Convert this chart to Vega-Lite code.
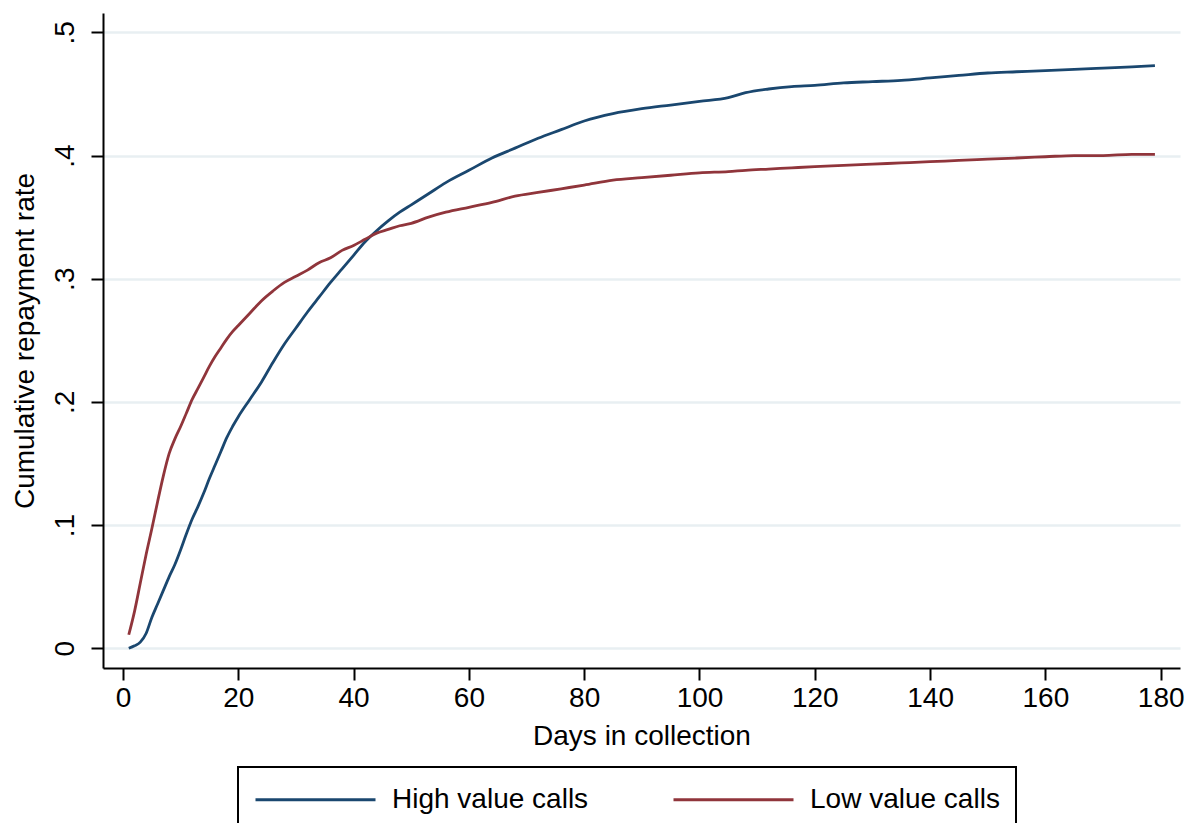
{
  "$schema": "https://vega.github.io/schema/vega-lite/v6.json",
  "width": 1077,
  "height": 655,
  "autosize": {"type": "none"},
  "padding": {"left": 103, "top": 13, "right": 6, "bottom": 155},
  "background": "white",
  "config": {
    "view": {"stroke": null},
    "font": "Liberation Sans",
    "axis": {
      "domainColor": "black",
      "domainWidth": 2,
      "tickColor": "black",
      "tickWidth": 2,
      "tickSize": 12,
      "labelColor": "black",
      "labelFontSize": 28,
      "titleColor": "black",
      "titleFontSize": 28,
      "titleFontWeight": "normal",
      "gridColor": "#e8eff2",
      "gridWidth": 2.5
    },
    "legend": {
      "strokeColor": "black",
      "strokeWidth": 2,
      "fillColor": "white"
    }
  },
  "data": {
    "values": [
      {"day": 1, "rate": 0.000, "group": "High value calls"},
      {"day": 2, "rate": 0.002, "group": "High value calls"},
      {"day": 3, "rate": 0.005, "group": "High value calls"},
      {"day": 4, "rate": 0.012, "group": "High value calls"},
      {"day": 5, "rate": 0.025, "group": "High value calls"},
      {"day": 6, "rate": 0.036, "group": "High value calls"},
      {"day": 7, "rate": 0.047, "group": "High value calls"},
      {"day": 8, "rate": 0.058, "group": "High value calls"},
      {"day": 9, "rate": 0.068, "group": "High value calls"},
      {"day": 10, "rate": 0.080, "group": "High value calls"},
      {"day": 11, "rate": 0.093, "group": "High value calls"},
      {"day": 12, "rate": 0.105, "group": "High value calls"},
      {"day": 13, "rate": 0.115, "group": "High value calls"},
      {"day": 14, "rate": 0.126, "group": "High value calls"},
      {"day": 15, "rate": 0.138, "group": "High value calls"},
      {"day": 16, "rate": 0.149, "group": "High value calls"},
      {"day": 17, "rate": 0.160, "group": "High value calls"},
      {"day": 18, "rate": 0.171, "group": "High value calls"},
      {"day": 19, "rate": 0.180, "group": "High value calls"},
      {"day": 20, "rate": 0.188, "group": "High value calls"},
      {"day": 22, "rate": 0.202, "group": "High value calls"},
      {"day": 24, "rate": 0.216, "group": "High value calls"},
      {"day": 26, "rate": 0.232, "group": "High value calls"},
      {"day": 28, "rate": 0.247, "group": "High value calls"},
      {"day": 30, "rate": 0.260, "group": "High value calls"},
      {"day": 32, "rate": 0.273, "group": "High value calls"},
      {"day": 34, "rate": 0.285, "group": "High value calls"},
      {"day": 36, "rate": 0.297, "group": "High value calls"},
      {"day": 38, "rate": 0.308, "group": "High value calls"},
      {"day": 40, "rate": 0.319, "group": "High value calls"},
      {"day": 42, "rate": 0.330, "group": "High value calls"},
      {"day": 44, "rate": 0.339, "group": "High value calls"},
      {"day": 46, "rate": 0.347, "group": "High value calls"},
      {"day": 48, "rate": 0.354, "group": "High value calls"},
      {"day": 50, "rate": 0.360, "group": "High value calls"},
      {"day": 53, "rate": 0.369, "group": "High value calls"},
      {"day": 56, "rate": 0.378, "group": "High value calls"},
      {"day": 60, "rate": 0.388, "group": "High value calls"},
      {"day": 64, "rate": 0.398, "group": "High value calls"},
      {"day": 68, "rate": 0.406, "group": "High value calls"},
      {"day": 72, "rate": 0.414, "group": "High value calls"},
      {"day": 76, "rate": 0.421, "group": "High value calls"},
      {"day": 80, "rate": 0.428, "group": "High value calls"},
      {"day": 85, "rate": 0.434, "group": "High value calls"},
      {"day": 90, "rate": 0.438, "group": "High value calls"},
      {"day": 95, "rate": 0.441, "group": "High value calls"},
      {"day": 100, "rate": 0.444, "group": "High value calls"},
      {"day": 105, "rate": 0.447, "group": "High value calls"},
      {"day": 108, "rate": 0.451, "group": "High value calls"},
      {"day": 112, "rate": 0.454, "group": "High value calls"},
      {"day": 116, "rate": 0.456, "group": "High value calls"},
      {"day": 120, "rate": 0.457, "group": "High value calls"},
      {"day": 125, "rate": 0.459, "group": "High value calls"},
      {"day": 130, "rate": 0.460, "group": "High value calls"},
      {"day": 135, "rate": 0.461, "group": "High value calls"},
      {"day": 140, "rate": 0.463, "group": "High value calls"},
      {"day": 145, "rate": 0.465, "group": "High value calls"},
      {"day": 150, "rate": 0.467, "group": "High value calls"},
      {"day": 155, "rate": 0.468, "group": "High value calls"},
      {"day": 160, "rate": 0.469, "group": "High value calls"},
      {"day": 165, "rate": 0.470, "group": "High value calls"},
      {"day": 170, "rate": 0.471, "group": "High value calls"},
      {"day": 175, "rate": 0.472, "group": "High value calls"},
      {"day": 179, "rate": 0.473, "group": "High value calls"},
      {"day": 1, "rate": 0.011, "group": "Low value calls"},
      {"day": 2, "rate": 0.030, "group": "Low value calls"},
      {"day": 3, "rate": 0.053, "group": "Low value calls"},
      {"day": 4, "rate": 0.076, "group": "Low value calls"},
      {"day": 5, "rate": 0.097, "group": "Low value calls"},
      {"day": 6, "rate": 0.119, "group": "Low value calls"},
      {"day": 7, "rate": 0.140, "group": "Low value calls"},
      {"day": 8, "rate": 0.158, "group": "Low value calls"},
      {"day": 9, "rate": 0.170, "group": "Low value calls"},
      {"day": 10, "rate": 0.180, "group": "Low value calls"},
      {"day": 11, "rate": 0.191, "group": "Low value calls"},
      {"day": 12, "rate": 0.202, "group": "Low value calls"},
      {"day": 13, "rate": 0.211, "group": "Low value calls"},
      {"day": 14, "rate": 0.220, "group": "Low value calls"},
      {"day": 15, "rate": 0.229, "group": "Low value calls"},
      {"day": 16, "rate": 0.237, "group": "Low value calls"},
      {"day": 17, "rate": 0.244, "group": "Low value calls"},
      {"day": 18, "rate": 0.251, "group": "Low value calls"},
      {"day": 19, "rate": 0.257, "group": "Low value calls"},
      {"day": 20, "rate": 0.262, "group": "Low value calls"},
      {"day": 22, "rate": 0.272, "group": "Low value calls"},
      {"day": 24, "rate": 0.282, "group": "Low value calls"},
      {"day": 26, "rate": 0.290, "group": "Low value calls"},
      {"day": 28, "rate": 0.297, "group": "Low value calls"},
      {"day": 30, "rate": 0.302, "group": "Low value calls"},
      {"day": 32, "rate": 0.307, "group": "Low value calls"},
      {"day": 34, "rate": 0.313, "group": "Low value calls"},
      {"day": 36, "rate": 0.317, "group": "Low value calls"},
      {"day": 38, "rate": 0.323, "group": "Low value calls"},
      {"day": 40, "rate": 0.327, "group": "Low value calls"},
      {"day": 42, "rate": 0.332, "group": "Low value calls"},
      {"day": 44, "rate": 0.337, "group": "Low value calls"},
      {"day": 46, "rate": 0.340, "group": "Low value calls"},
      {"day": 48, "rate": 0.343, "group": "Low value calls"},
      {"day": 50, "rate": 0.345, "group": "Low value calls"},
      {"day": 53, "rate": 0.350, "group": "Low value calls"},
      {"day": 56, "rate": 0.354, "group": "Low value calls"},
      {"day": 60, "rate": 0.358, "group": "Low value calls"},
      {"day": 64, "rate": 0.362, "group": "Low value calls"},
      {"day": 68, "rate": 0.367, "group": "Low value calls"},
      {"day": 72, "rate": 0.370, "group": "Low value calls"},
      {"day": 76, "rate": 0.373, "group": "Low value calls"},
      {"day": 80, "rate": 0.376, "group": "Low value calls"},
      {"day": 85, "rate": 0.380, "group": "Low value calls"},
      {"day": 90, "rate": 0.382, "group": "Low value calls"},
      {"day": 95, "rate": 0.384, "group": "Low value calls"},
      {"day": 100, "rate": 0.386, "group": "Low value calls"},
      {"day": 105, "rate": 0.387, "group": "Low value calls"},
      {"day": 108, "rate": 0.388, "group": "Low value calls"},
      {"day": 112, "rate": 0.389, "group": "Low value calls"},
      {"day": 116, "rate": 0.390, "group": "Low value calls"},
      {"day": 120, "rate": 0.391, "group": "Low value calls"},
      {"day": 125, "rate": 0.392, "group": "Low value calls"},
      {"day": 130, "rate": 0.393, "group": "Low value calls"},
      {"day": 135, "rate": 0.394, "group": "Low value calls"},
      {"day": 140, "rate": 0.395, "group": "Low value calls"},
      {"day": 145, "rate": 0.396, "group": "Low value calls"},
      {"day": 150, "rate": 0.397, "group": "Low value calls"},
      {"day": 155, "rate": 0.398, "group": "Low value calls"},
      {"day": 160, "rate": 0.399, "group": "Low value calls"},
      {"day": 165, "rate": 0.400, "group": "Low value calls"},
      {"day": 170, "rate": 0.400, "group": "Low value calls"},
      {"day": 175, "rate": 0.401, "group": "Low value calls"},
      {"day": 179, "rate": 0.401, "group": "Low value calls"}
    ]
  },
  "mark": {"type": "line", "strokeWidth": 2.8, "interpolate": "monotone"},
  "encoding": {
    "x": {
      "field": "day",
      "type": "quantitative",
      "scale": {"domain": [-3.47, 183.35], "nice": false, "zero": false},
      "axis": {
        "title": "Days in collection",
        "values": [0, 20, 40, 60, 80, 100, 120, 140, 160, 180],
        "grid": false,
        "labelPadding": 4,
        "titlePadding": 10,
        "labelFlush": false,
        "labelOverlap": false
      }
    },
    "y": {
      "field": "rate",
      "type": "quantitative",
      "scale": {"domain": [-0.016, 0.5157], "nice": false, "zero": false},
      "axis": {
        "title": "Cumulative repayment rate",
        "values": [0, 0.1, 0.2, 0.3, 0.4, 0.5],
        "labelExpr": "datum.value == 0 ? '0' : replace(format(datum.value, '.1f'), '0.', '.')",
        "labelAngle": -90,
        "labelAlign": "center",
        "labelBaseline": "bottom",
        "labelPadding": 12,
        "titlePadding": 12,
        "labelFlush": false,
        "labelOverlap": false
      }
    },
    "color": {
      "field": "group",
      "type": "nominal",
      "scale": {
        "domain": ["High value calls", "Low value calls"],
        "range": ["#1a476f", "#90353b"]
      },
      "legend": {
        "title": null,
        "orient": "none",
        "legendX": 135,
        "legendY": 754,
        "direction": "horizontal",
        "columns": 2,
        "symbolType": "M-1,0H7",
        "symbolSize": 900,
        "symbolStrokeWidth": 3,
        "labelFontSize": 28,
        "labelColor": "black",
        "labelOffset": 105,
        "columnPadding": 78,
        "padding": 16,
        "labelLimit": 400
      }
    }
  }
}
